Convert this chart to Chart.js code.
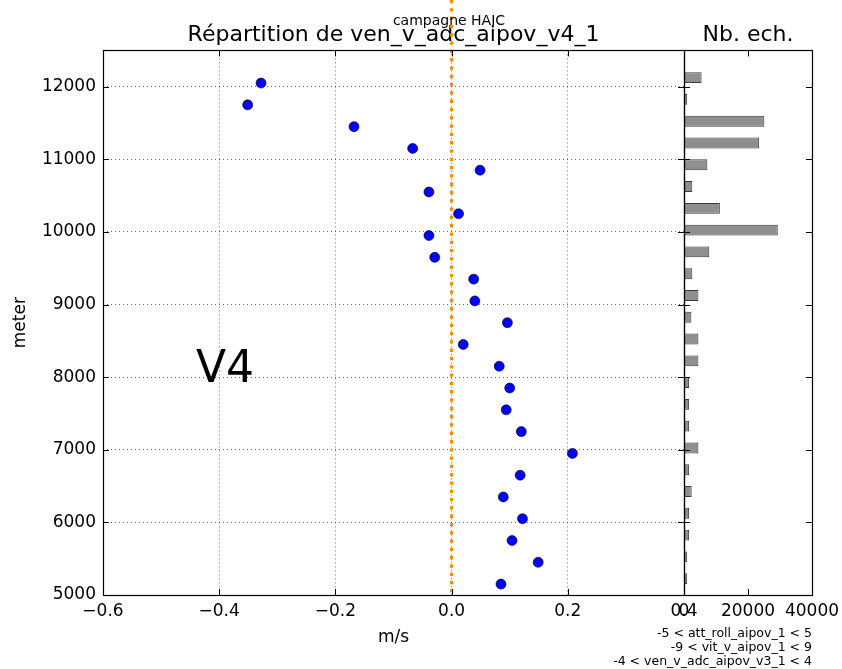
<!DOCTYPE html>
<html>
<head>
<meta charset="utf-8">
<script src="https://cdn.jsdelivr.net/npm/chart.js@4.4.0/dist/chart.umd.min.js"></script>
<style>
  body { margin: 0; background: #fff; font-family: "DejaVu Sans", sans-serif; }
  #wrap { position: relative; width: 842px; height: 669px; }
  canvas { position: absolute; left: 0; top: 0; }
  .txt { position: absolute; white-space: nowrap; color: #000; }
</style>
</head>
<body>
<div id="wrap">
  <canvas id="histChart" width="842" height="669"></canvas>
  <canvas id="myChart" width="842" height="669"></canvas>
  <div class="txt" style="left:449px; top:13px; font-size:14px; line-height:14px; transform:translateX(-50%);">campagne HAIC</div>
  <div class="txt" style="left:196px; top:345px; font-size:44px; line-height:44px;">V4</div>
  <div class="txt" style="right:30px; top:626px; font-size:12.5px; line-height:14px; text-align:right;">
    -5 &lt; att_roll_aipov_1 &lt; 5<br>-9 &lt; vit_v_aipov_1 &lt; 9<br>-4 &lt; ven_v_adc_aipov_v3_1 &lt; 4
  </div>
</div>
<script>
// altitude bins (meter), mean vertical wind (m/s), number of samples
var altitudes = [12050, 11750, 11450, 11150, 10850, 10550, 10250, 9950, 9650, 9350, 9050, 8750,
  8450, 8150, 7850, 7550, 7250, 6950, 6650, 6350, 6050, 5750, 5450, 5150];
var speeds = [-0.328, -0.351, -0.168, -0.067, 0.049, -0.039, 0.012, -0.039, -0.029, 0.038, 0.040, 0.096,
  0.020, 0.082, 0.100, 0.094, 0.120, 0.208, 0.118, 0.089, 0.122, 0.104, 0.149, 0.085];
var counts = [5500, 1000, 25100, 23500, 7300, 2600, 11200, 29300, 7900, 2600, 4500, 2300,
  4500, 4500, 1600, 1600, 1600, 4500, 1600, 2400, 1600, 1600, 1000, 1000];

var xTicks = [-0.6, -0.4, -0.2, 0.0, 0.2, 0.4];
var yTicks = [5000, 6000, 7000, 8000, 9000, 10000, 11000, 12000];
var countTicks = [0, 20000, 40000];
var refSpeed = 0;
var binHeight = 150;

Chart.defaults.font.family = "DejaVu Sans";
Chart.defaults.font.size = 17;
Chart.defaults.color = "#000";

// matplotlib style frame with inward ticks on all four sides
const frameTicks = {
  id: "frameTicks",
  afterDraw(chart) {
    const ctx = chart.ctx;
    const a = chart.chartArea;
    const xs = chart.scales.x;
    const ys = chart.scales.y;
    const len = 6;
    ctx.save();
    ctx.strokeStyle = "#000";
    ctx.lineWidth = 1;
    ctx.beginPath();
    xs.ticks.forEach((t) => {
      const px = Math.round(xs.getPixelForValue(t.value)) + 0.5;
      ctx.moveTo(px, a.bottom);
      ctx.lineTo(px, a.bottom - len);
      ctx.moveTo(px, a.top);
      ctx.lineTo(px, a.top + len);
    });
    ys.ticks.forEach((t) => {
      const py = Math.round(ys.getPixelForValue(t.value)) + 0.5;
      ctx.moveTo(a.left, py);
      ctx.lineTo(a.left + len, py);
      ctx.moveTo(a.right, py);
      ctx.lineTo(a.right - len, py);
    });
    ctx.stroke();
    ctx.lineWidth = 1.2;
    ctx.strokeRect(Math.round(a.left) + 0.5, Math.round(a.top) + 0.5,
      Math.round(a.right - a.left), Math.round(a.bottom - a.top));
    ctx.restore();
  }
};

// orange dotted line at 0 m/s, running up to the top of the figure
const zeroLine = {
  id: "zeroLine",
  afterDraw(chart) {
    const ctx = chart.ctx;
    const px = chart.scales.x.getPixelForValue(refSpeed);
    ctx.save();
    ctx.strokeStyle = "#ff8c00";
    ctx.lineWidth = 3.3;
    ctx.setLineDash([3.3, 5]);
    ctx.beginPath();
    ctx.moveTo(px, 0);
    ctx.lineTo(px, chart.chartArea.bottom);
    ctx.stroke();
    ctx.restore();
  }
};

const titleOpts = (text) => ({
  display: true,
  text: text,
  fullSize: false,
  color: "#000",
  font: { size: 22, weight: "normal" },
  padding: { top: 2, bottom: 2 }
});

// keep edge labels from shrinking the plot area
const fixBottom = (s) => {
  s.height = 74;
  s.paddingLeft = 0;
  s.paddingRight = 0;
};

const myChart = new Chart(document.getElementById("myChart"), {
  type: "scatter",
  data: {
    datasets: [{
      data: altitudes.map((h, i) => ({ x: speeds[i], y: h })),
      backgroundColor: "#0000ff",
      borderColor: "#000",
      borderWidth: 0.6,
      pointRadius: 5
    }]
  },
  options: {
    responsive: false,
    animation: false,
    layout: { padding: { top: 20, right: 158, bottom: 0, left: 0 } },
    plugins: {
      legend: { display: false },
      tooltip: { enabled: false },
      title: titleOpts("Répartition de ven_v_adc_aipov_v4_1")
    },
    scales: {
      x: {
        type: "linear",
        min: -0.6,
        max: 0.4,
        afterBuildTicks: (s) => { s.ticks = xTicks.map((v) => ({ value: v })); },
        afterFit: fixBottom,
        ticks: {
          padding: 6,
          autoSkip: false,
          maxRotation: 0,
          callback: (v) => v.toFixed(1).replace("-", "\u2212")
        },
        grid: { color: "rgba(0,0,0,0.6)", lineWidth: 1, drawTicks: false },
        border: { display: false, dash: [1, 3] },
        title: { display: true, text: "m/s", font: { size: 17 }, padding: { top: 0, bottom: 21 } }
      },
      y: {
        type: "linear",
        min: 5000,
        max: 12500,
        afterBuildTicks: (s) => { s.ticks = yTicks.map((v) => ({ value: v })); },
        afterFit: (s) => { s.width = 103; },
        ticks: { padding: 7, callback: (v) => String(v) },
        grid: { color: "rgba(0,0,0,0.6)", lineWidth: 1, drawTicks: false },
        border: { display: false, dash: [1, 3] },
        title: { display: true, text: "meter", font: { size: 17 }, padding: { top: 10, bottom: 0 } }
      }
    }
  },
  plugins: [zeroLine, frameTicks]
});

const histChart = new Chart(document.getElementById("histChart"), {
  type: "bar",
  data: {
    datasets: [{
      // bars start at the bin altitude and are binHeight tall
      data: altitudes.map((h, i) => ({ x: counts[i], y: h + binHeight / 2 })),
      backgroundColor: "#8f8f8f",
      borderColor: "#3a3a3a",
      borderWidth: 1,
      borderSkipped: false,
      categoryPercentage: 1,
      barPercentage: 0.5
    }]
  },
  options: {
    indexAxis: "y",
    responsive: false,
    animation: false,
    layout: { padding: { top: 20, right: 30, bottom: 0, left: 684 } },
    plugins: {
      legend: { display: false },
      tooltip: { enabled: false },
      title: titleOpts("Nb. ech.")
    },
    scales: {
      x: {
        type: "linear",
        min: 0,
        max: 40000,
        afterBuildTicks: (s) => { s.ticks = countTicks.map((v) => ({ value: v })); },
        afterFit: fixBottom,
        ticks: { padding: 6, autoSkip: false, maxRotation: 0, callback: (v) => String(v) },
        grid: { display: false, drawTicks: false },
        border: { display: false }
      },
      y: {
        type: "linear",
        min: 5000,
        max: 12500,
        offset: false,
        afterBuildTicks: (s) => { s.ticks = yTicks.map((v) => ({ value: v })); },
        afterFit: (s) => { s.width = 0; },
        ticks: { display: false },
        grid: { display: false, drawTicks: false, offset: false },
        border: { display: false }
      }
    }
  },
  plugins: [frameTicks]
});
</script>
</body>
</html>
